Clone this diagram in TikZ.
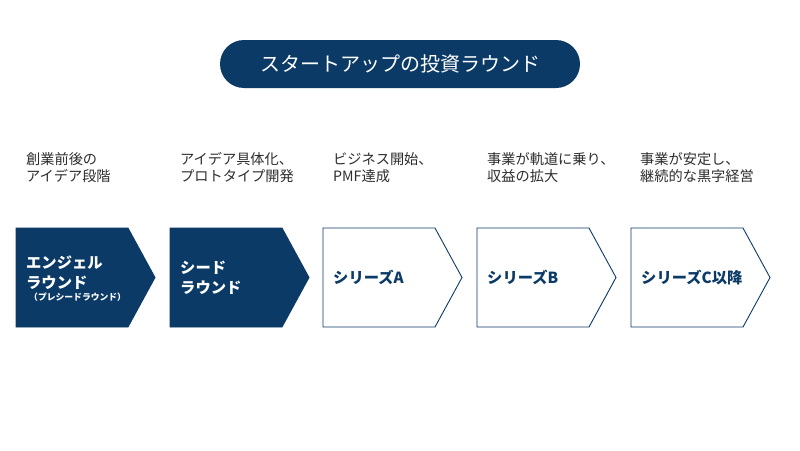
\documentclass[tikz,border=0pt]{standalone}
\usepackage{fontspec}
\setmainfont{Noto Sans CJK JP}
\definecolor{navy}{RGB}{12,58,102}
\definecolor{txt}{RGB}{45,45,45}
\tikzset{
  chev/.style={line width=0.9pt, draw=navy},
  chevfill/.style={chev, fill=navy},
  chevopen/.style={chev, fill=white},
  desc/.style={anchor=north west, align=left, font=\fontsize{14.2}{17}\selectfont, text=txt, inner sep=0pt},
  lbl/.style={anchor=west, align=left, font=\fontsize{15.3}{20}\selectfont\bfseries, inner sep=0pt},
}
\newcommand{\chevron}[3]{% #1 left x, #2 style, #3 name
  \draw[#2] (#1,228) -- (#1+112,228) -- (#1+139,277.5) -- (#1+112,327) -- (#1,327) -- cycle;
  \coordinate (#3) at (#1+10,277.5);
}
\begin{document}
\begin{tikzpicture}[x=1pt,y=-1pt]
\useasboundingbox (0,0) rectangle (800,450);
\fill[white] (0,0) rectangle (800,450);
% title
\node[fill=navy, rounded corners=24pt, minimum width=360pt, minimum height=48pt, text=white,
  font=\fontsize{20}{24}\selectfont, inner sep=0pt] (title) at (400,64) {スタートアップの投資ラウンド};
% chevrons
\chevron{16}{chevfill}{c1}
\chevron{170}{chevfill}{c2}
\chevron{323}{chevopen}{c3}
\chevron{477}{chevopen}{c4}
\chevron{631}{chevopen}{c5}
% labels
\node[lbl, text=white] (l1a) at (26,273) {エンジェル\\ラウンド};
\node[anchor=west, text=white, inner sep=0pt, font=\fontsize{8.8}{10}\selectfont\bfseries] (l1b) at (29,297) {（プレシードラウンド）};
\node[lbl, text=white] (l2) at (180,277.5) {シード\\ラウンド};
\node[lbl, text=navy] (l3) at (c3) {シリーズA};
\node[lbl, text=navy] (l4) at (c4) {シリーズB};
\node[lbl, text=navy] (l5) at (c5) {シリーズC以降};
% descriptions
\node[desc] (d1) at (26,152) {創業前後の\\アイデア段階};
\node[desc] (d2) at (180,152) {アイデア具体化、\\プロトタイプ開発};
\node[desc] (d3) at (333,152) {ビジネス開始、\\PMF達成};
\node[desc] (d4) at (487,152) {事業が軌道に乗り、\\収益の拡大};
\node[desc] (d5) at (640,152) {事業が安定し、\\継続的な黒字経営};
\end{tikzpicture}
\end{document}
